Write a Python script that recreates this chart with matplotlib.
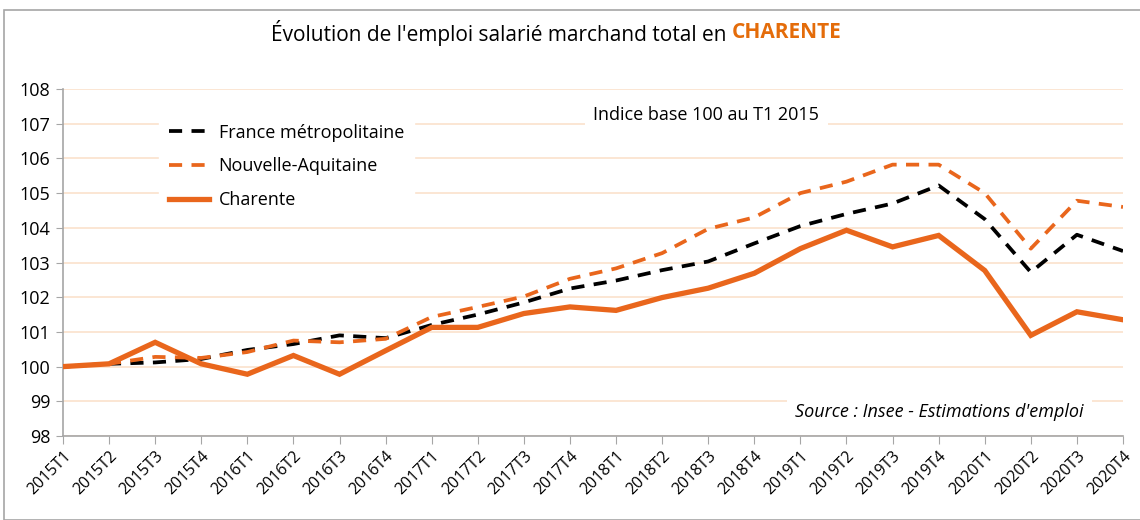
import matplotlib
matplotlib.use("Agg")
import matplotlib.pyplot as plt
from matplotlib.patches import Rectangle

plt.rcParams['font.family'] = ['Open Sans', 'DejaVu Sans']

quarters = ['2015T1', '2015T2', '2015T3', '2015T4',
            '2016T1', '2016T2', '2016T3', '2016T4',
            '2017T1', '2017T2', '2017T3', '2017T4',
            '2018T1', '2018T2', '2018T3', '2018T4',
            '2019T1', '2019T2', '2019T3', '2019T4',
            '2020T1', '2020T2', '2020T3', '2020T4']

france = [100.0, 100.08, 100.12, 100.22, 100.48, 100.65, 100.9, 100.82,
          101.2, 101.5, 101.85, 102.25, 102.48, 102.78, 103.03, 103.55,
          104.05, 104.4, 104.7, 105.22, 104.25, 102.72, 103.8, 103.33]

nouvelle_aquitaine = [100.0, 100.08, 100.28, 100.25, 100.42, 100.75, 100.7, 100.8,
                      101.43, 101.72, 102.02, 102.53, 102.83, 103.27, 103.97, 104.3,
                      105.0, 105.33, 105.82, 105.82, 105.0, 103.4, 104.78, 104.6]

charente = [100.0, 100.08, 100.7, 100.08, 99.78, 100.32, 99.78, 100.46,
            101.13, 101.13, 101.53, 101.72, 101.62, 101.99, 102.26, 102.69,
            103.4, 103.93, 103.45, 103.78, 102.77, 100.9, 101.58, 101.35]

ORANGE = '#e9661c'
GRID = '#fbe1cc'

fig = plt.figure(figsize=(11.4, 5.2), dpi=100)
fig.patch.set_facecolor('white')

# outer chart frame
fig.patches.append(Rectangle((4 / 1140, 0), 1.2, 510 / 520, transform=fig.transFigure,
                             fill=False, edgecolor='#a6a6a6', linewidth=1.2))

ax = fig.add_axes([63 / 1140, 84 / 520, 1060 / 1140, 347 / 520])

x = list(range(len(quarters)))
ax.plot(x, france, color='black', linewidth=2.7, linestyle=(0, (3.5, 2.5)),
        label='France métropolitaine', zorder=3)
ax.plot(x, nouvelle_aquitaine, color=ORANGE, linewidth=2.7, linestyle=(0, (3.5, 2.5)),
        label='Nouvelle-Aquitaine', zorder=3)
ax.plot(x, charente, color=ORANGE, linewidth=3.8, solid_joinstyle='miter',
        label='Charente', zorder=4)

ax.set_xlim(0, len(quarters) - 1)
ax.set_ylim(98, 108)
ax.set_yticks(range(98, 109))
ax.set_xticks(x)
ax.set_xticklabels(quarters, rotation=45, ha='right', rotation_mode='anchor', fontsize=11.5)
ax.tick_params(axis='y', labelsize=13, length=5, color='#a6a6a6', pad=4)
ax.tick_params(axis='x', length=6, color='#a6a6a6', pad=3)

ax.grid(axis='y', color=GRID, linewidth=1.2, zorder=0)
ax.set_axisbelow(True)
for side in ['top', 'right']:
    ax.spines[side].set_visible(False)
for side in ['left', 'bottom']:
    ax.spines[side].set_color('#a6a6a6')
    ax.spines[side].set_linewidth(1.2)

leg = ax.legend(loc='upper left', bbox_to_anchor=(0.082, 0.955), frameon=True,
                fontsize=13, handlelength=2.2, labelspacing=0.88,
                handletextpad=0.55, borderpad=0.55, fancybox=False)
leg.get_frame().set_facecolor('white')
leg.get_frame().set_edgecolor('white')
leg.get_frame().set_alpha(1)

ax.text(0.607, 0.925, 'Indice base 100 au T1 2015', transform=ax.transAxes,
        ha='center', va='center', fontsize=13,
        bbox=dict(facecolor='white', edgecolor='none', pad=6))
ax.text(0.827, 0.07, "Source : Insee - Estimations d'emploi", transform=ax.transAxes,
        ha='center', va='center', fontsize=13, style='italic',
        bbox=dict(facecolor='white', edgecolor='none', pad=6))

# title with highlighted department name
title_main = "Évolution de l'emploi salarié marchand total en "
tm = fig.text(0.0, 1 - 33 / 520, title_main, fontsize=15, va='center', ha='left')
tc = fig.text(0.0, 1 - 33 / 520, 'CHARENTE', fontsize=15, va='center', ha='left',
              color='#e46c0a', fontweight='bold')
fig.canvas.draw()
r = fig.canvas.get_renderer()
w1 = tm.get_window_extent(r).width
w2 = tc.get_window_extent(r).width
start = (556 - (w1 + w2) / 2) / 1140
tm.set_x(start)
tc.set_x(start + w1 / 1140)

fig.savefig('out.png', dpi=100)
